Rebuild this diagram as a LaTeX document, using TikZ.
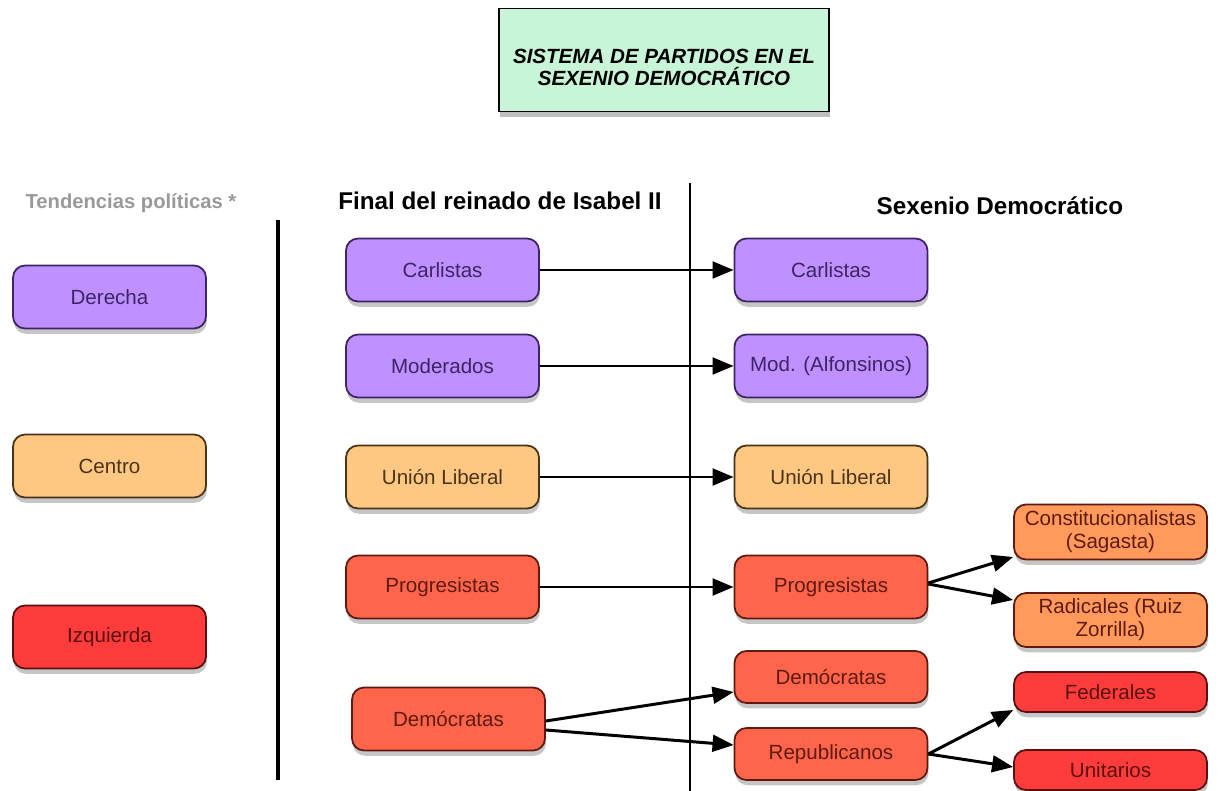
\documentclass[tikz,border=0pt]{standalone}
\usepackage{fontspec}
\setmainfont{Liberation Sans}
\usetikzlibrary{arrows.meta,shadows}
\definecolor{titulo}{HTML}{C8F5D8}
\definecolor{morado}{HTML}{BF90FF}
\definecolor{moradoosc}{HTML}{3E2466}
\definecolor{naranja}{HTML}{FFC882}
\definecolor{naranjaosc}{HTML}{4A3418}
\definecolor{rojizo}{HTML}{FF654B}
\definecolor{rojizoosc}{HTML}{5E1A10}
\definecolor{naranjafuerte}{HTML}{FF9A5C}
\definecolor{rojo}{HTML}{FF3C3C}
\definecolor{rojoosc}{HTML}{5A1010}
\begin{document}
\begin{tikzpicture}[x=0.02cm,y=-0.02cm]
	\tikzstyle{every node}=[font=\fontsize{11.7}{13}\selectfont]
	\tikzstyle{partido}=[draw, rounded corners=0.24cm, line width=1pt, minimum width=3.86cm, minimum height=1.26cm, align=center, drop shadow={shadow xshift=0.5pt, shadow yshift=-3pt, opacity=0.45}]
	\tikzstyle{der}=[partido, fill=morado, draw=moradoosc, text=moradoosc]
	\tikzstyle{cen}=[partido, fill=naranja, draw=naranjaosc, text=naranjaosc]
	\tikzstyle{izq}=[partido, fill=rojizo, draw=rojizoosc, text=rojizoosc]
	\tikzstyle{flecha}=[line width=1.7pt, -{Triangle[length=12pt,width=9.5pt]}]
	\useasboundingbox (0,0) rectangle (1221,791);

	\node[draw, line width=0.8pt, fill=titulo, minimum width=6.6cm, minimum height=2.06cm, drop shadow={shadow xshift=0.5pt, shadow yshift=-3pt, opacity=0.5}, label={[align=center, yshift=-0.14cm, font=\fontsize{11.7}{12.5}\selectfont\bfseries\itshape]center:SISTEMA DE PARTIDOS EN EL\\SEXENIO DEMOCRÁTICO}] (titulo) at (664,60) {};

	% cabeceras
	\node[text=black!40, font=\fontsize{11.5}{13}\selectfont\bfseries] (tendencias) at (131,203) {Tendencias políticas *};
	\node[font=\fontsize{13.8}{15}\selectfont\bfseries] (final) at (500,201) {Final del reinado de Isabel II};
	\node[font=\fontsize{13.8}{15}\selectfont\bfseries] (sexenio) at (1000,206) {Sexenio Democrático};
	\draw [line width=2.2pt] (278,220) -- (278,780);
	\draw [line width=0.6pt] (690,183) -- (690,791);

	% tendencias
	\node[der] (derecha) at (109.5,297) {Derecha};
	\node[cen] (centro) at (109.5,466) {Centro};
	\node[izq, fill=rojo, draw=rojoosc, text=rojoosc] (izquierda) at (109.5,637) {Izquierda};

	% final del reinado
	\node[der] (carlistasA) at (442.5,270) {Carlistas};
	\node[der] (moderadosA) at (442.5,366) {Moderados};
	\node[cen] (unionA) at (442.5,477) {Unión Liberal};
	\node[izq] (progresistasA) at (442.5,587) {Progresistas};
	\node[izq] (democratasA) at (448.5,719) {Demócratas};

	% sexenio
	\begin{scope}[every node/.append style={minimum width=3.8cm}]
	\node[der] (carlistasB) at (831,270) {Carlistas};
	\node[der] (moderadosB) at (831,366) {Mod. (Alfonsinos)};
	\node[cen] (unionB) at (831,477) {Unión Liberal};
	\node[izq] (progresistasB) at (831,587) {Progresistas};
	\node[izq, minimum height=1.04cm] (democratasB) at (831,677) {Demócratas};
	\node[izq, minimum height=1.04cm] (republicanos) at (831,754) {Republicanos};
	\end{scope}

	\begin{scope}[every node/.append style={minimum width=3.98cm}]
	\node[izq, fill=naranjafuerte, minimum height=1.1cm] (constitucionalistas) at (1110.5,532) {Constitucionalistas\\(Sagasta)};
	\node[izq, fill=naranjafuerte, minimum height=1.08cm] (radicales) at (1110.5,620) {Radicales (Ruiz\\Zorrilla)};
	\node[izq, fill=rojo, draw=rojoosc, text=rojoosc, minimum height=0.8cm] (federales) at (1110.5,692) {Federales};
	\node[izq, fill=rojo, draw=rojoosc, text=rojoosc, minimum height=0.8cm] (unitarios) at (1110.5,770) {Unitarios};
	\end{scope}

	\draw [flecha] (carlistasA.east) -- (carlistasB.west);
	\draw [flecha] (moderadosA.east) -- (moderadosB.west);
	\draw [flecha] (unionA.east) -- (unionB.west);
	\draw [flecha] (progresistasA.east) -- (progresistasB.west);
	\draw [flecha] ([yshift=-0.04cm]democratasA.east) -- ([yshift=-0.3cm]democratasB.west);
	\draw [flecha] ([yshift=-0.22cm]democratasA.east) -- ([yshift=0.18cm]republicanos.west);
	\draw [flecha] ([yshift=0.08cm]progresistasB.east) -- ([yshift=-0.5cm]constitucionalistas.west);
	\draw [flecha] ([yshift=0.06cm]progresistasB.east) -- ([yshift=0.4cm]radicales.west);
	\draw [flecha] (republicanos.east) -- ([yshift=-0.36cm]federales.west);
	\draw [flecha] (republicanos.east) -- ([yshift=0.06cm]unitarios.west);
\end{tikzpicture}
\end{document}
